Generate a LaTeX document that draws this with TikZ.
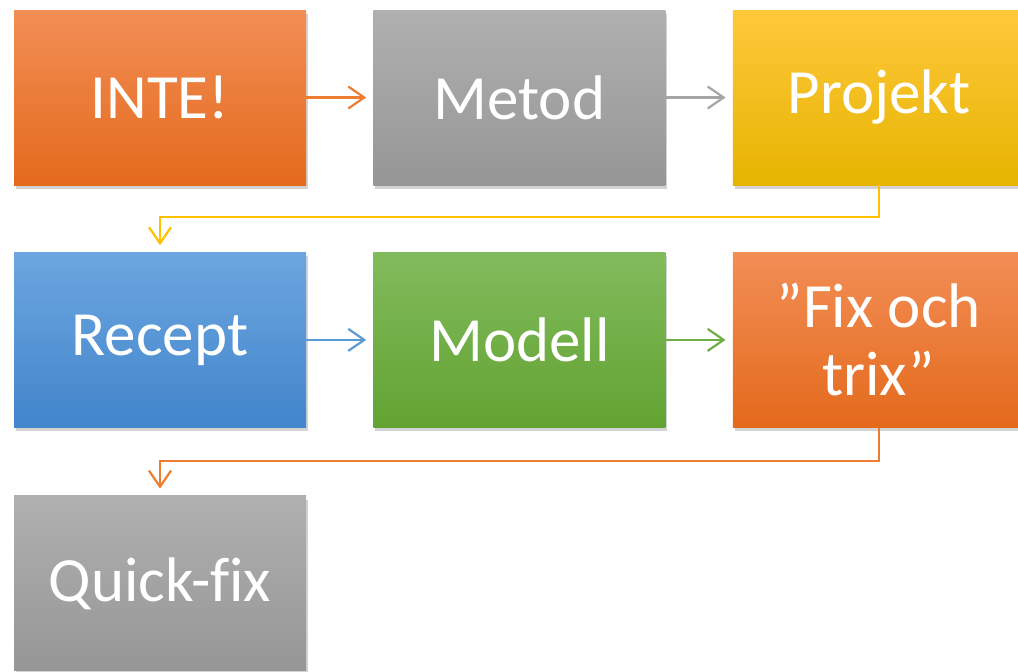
\documentclass[tikz,border=0pt]{standalone}
\usepackage{fontspec}
\setmainfont[Ligatures=CommonOff]{Carlito}
\usetikzlibrary{positioning,arrows.meta,shadows}
\definecolor{orangetop}{RGB}{242,142,86}
\definecolor{orangebot}{RGB}{228,106,28}
\definecolor{graytop}{RGB}{176,176,176}
\definecolor{graybot}{RGB}{150,150,150}
\definecolor{yellowtop}{RGB}{255,200,60}
\definecolor{yellowbot}{RGB}{230,180,0}
\definecolor{bluetop}{RGB}{108,166,224}
\definecolor{bluebot}{RGB}{66,133,203}
\definecolor{greentop}{RGB}{130,187,93}
\definecolor{greenbot}{RGB}{98,163,50}
\definecolor{orangeline}{RGB}{237,125,49}
\definecolor{grayline}{RGB}{165,165,165}
\definecolor{yellowline}{RGB}{255,192,0}
\definecolor{blueline}{RGB}{91,155,213}
\definecolor{greenline}{RGB}{112,173,71}
\newcommand*{\boxtextstyle}{\fontsize{63}{68}\selectfont\color{white}}

\tikzset{
    stepbox/.style = {
        minimum width = 292pt,
        minimum height = 175pt,
        inner sep = 0pt,
        align = center,
        font = \boxtextstyle,
        drop shadow = {opacity=0.35, shadow xshift=2pt, shadow yshift=-4pt}
    },
    orangebox/.style = {stepbox, top color=orangetop, bottom color=orangebot},
    graybox/.style = {stepbox, top color=graytop, bottom color=graybot},
    yellowbox/.style = {stepbox, top color=yellowtop, bottom color=yellowbot},
    bluebox/.style = {stepbox, top color=bluetop, bottom color=bluebot},
    greenbox/.style = {stepbox, top color=greentop, bottom color=greenbot},
    link/.style = {line width=2.2pt, -{Straight Barb[length=16pt, width=22pt, line width=2.2pt]}}
}

\begin{document}
\begin{tikzpicture}[x=1pt, y=1pt, node distance=67pt]

    \useasboundingbox (0,0) rectangle (1018,-672);

    % first row
    \node[orangebox] (inte) at (160,-97.5) {INTE!};
    \node[graybox, right=67pt of inte] (metod) {Metod};
    \node[yellowbox, right=67pt of metod] (projekt) {Projekt};

    % second row
    \node[bluebox, below=67pt of inte] (recept) {Recept};
    \node[greenbox, right=67pt of recept] (modell) {Modell};
    \node[orangebox, right=67pt of modell] (fix) {”Fix och\\ trix”};

    % third row
    \node[graybox, below=68pt of recept] (quick) {Quick-fix};

    \draw[link, orangeline, shorten >=7pt] (inte) -- (metod);
    \draw[link, grayline, shorten >=7pt] (metod) -- (projekt);
    \draw[link, yellowline, shorten >=7pt] (projekt.south) -- ++(0,-32) -| (recept.north);

    \draw[link, blueline, shorten >=7pt] (recept) -- (modell);
    \draw[link, greenline, shorten >=7pt] (modell) -- (fix);
    \draw[link, orangeline, shorten >=7pt] (fix.south) -- ++(0,-33) -| (quick.north);

\end{tikzpicture}
\end{document}
